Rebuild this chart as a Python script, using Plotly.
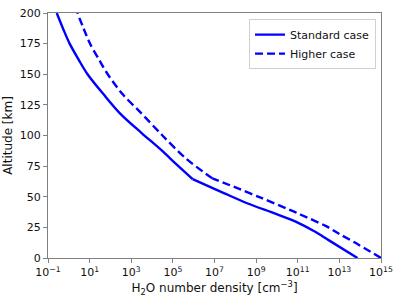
import numpy as np
import plotly.graph_objects as go

# Standard case: altitude [km] and log10 of H2O number density [cm^-3]
std_alt = [0, 14.4, 22.2, 29.3, 36, 44.5, 53, 64.4, 76, 88, 102, 117.7, 133.4, 150, 162, 175, 187, 200]
std_logn = [13.87, 12.5, 11.75, 10.95, 9.95, 8.6, 7.45, 5.95, 5.2, 4.45, 3.5, 2.48, 1.68, 0.9, 0.47, 0.04, -0.27, -0.58]

# Higher case
hi_alt = [0, 13, 19.6, 26, 35.3, 38, 49, 58, 65, 81, 100, 119.3, 133.4, 150, 162, 175, 187, 200]
hi_logn = [15.0, 13.7, 13.0, 12.36, 11.15, 10.8, 9.25, 7.95, 6.9, 5.64, 4.5, 3.42, 2.6, 1.87, 1.45, 1.02, 0.72, 0.41]

# altitude of the sharp bend (mesopause-like kink) in each profile
std_kink = 64.4
hi_kink = 65

x_tick_exps = [-1, 1, 3, 5, 7, 9, 11, 13, 15]
y_ticks = [0, 25, 50, 75, 100, 125, 150, 175, 200]

fig = go.Figure()


def add_profile(alt, logn, kink, name, dash):
    alt = np.array(alt, dtype=float)
    n = 10 ** np.array(logn, dtype=float)
    low = alt <= kink
    high = alt >= kink
    for i, mask in enumerate([low, high]):
        fig.add_trace(go.Scatter(
            x=n[mask], y=alt[mask], mode="lines", name=name,
            legendgroup=name, showlegend=(i == 0),
            line=dict(color="#0000ff", width=2.4, dash=dash,
                      shape="spline", smoothing=0.9)))


add_profile(std_alt, std_logn, std_kink, "Standard case", "solid")
add_profile(hi_alt, hi_logn, hi_kink, "Higher case", "8px,4px")

axis_common = dict(showline=True, linecolor="#808080", linewidth=1.2, mirror=True,
                   ticks="outside", ticklen=4, tickcolor="#808080", showgrid=False,
                   zeroline=False, tickfont=dict(size=11, color="#111"))

fig.update_xaxes(type="log", range=[-1, 15],
                 tickvals=[10 ** e for e in x_tick_exps],
                 ticktext=["10<sup>%s</sup>" % (str(e).replace("-", "\u2212")) for e in x_tick_exps],
                 title=dict(text="H<sub>2</sub>O number density [cm<sup>\u22123</sup>]",
                            font=dict(size=12, color="#111"), standoff=2),
                 **axis_common)
fig.update_yaxes(range=[0, 200], tickvals=y_ticks,
                 title=dict(text="Altitude [km]", font=dict(size=12, color="#111"), standoff=4),
                 **axis_common)

fig.update_layout(
    width=400, height=297,
    margin=dict(l=46, r=14, t=7, b=37),
    paper_bgcolor="white", plot_bgcolor="white",
    font=dict(family="DejaVu Sans", size=11, color="#111"),
    showlegend=True,
    legend=dict(x=0.985, y=0.975, xanchor="right", yanchor="top",
                bgcolor="rgba(255,255,255,0.9)", bordercolor="#d0d0d0", borderwidth=1,
                font=dict(size=11), tracegroupgap=0, itemwidth=30),
)

fig.write_html("out.html")
